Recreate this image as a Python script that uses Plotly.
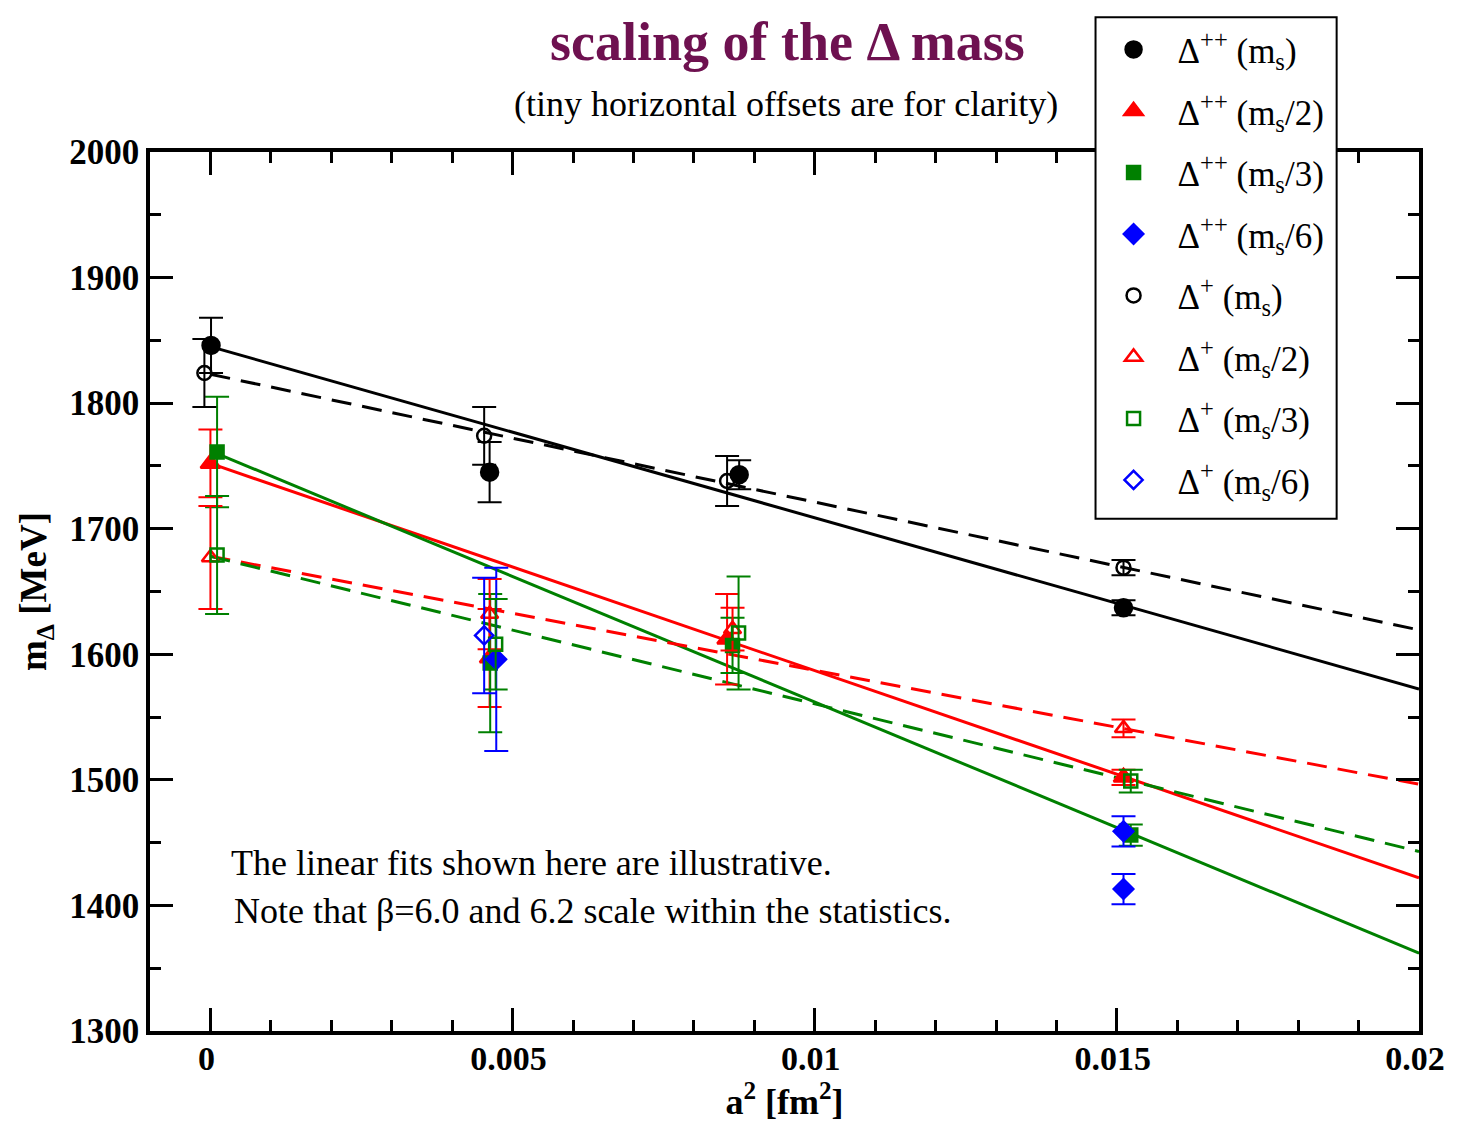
import plotly.graph_objects as go

# ---------------- data ----------------
names = ["Δ<sup>++</sup> (m<sub>s</sub>)", "Δ<sup>++</sup> (m<sub>s</sub>/2)",
         "Δ<sup>++</sup> (m<sub>s</sub>/3)", "Δ<sup>++</sup> (m<sub>s</sub>/6)",
         "Δ<sup>+</sup> (m<sub>s</sub>)", "Δ<sup>+</sup> (m<sub>s</sub>/2)",
         "Δ<sup>+</sup> (m<sub>s</sub>/3)", "Δ<sup>+</sup> (m<sub>s</sub>/6)"]

x_pp_ms = [0.00001, 0.00462, 0.00875, 0.01511]
y_pp_ms = [1846, 1745, 1743, 1637]
e_pp_ms = [22, 24, 11.5, 6]

x_pp_ms2 = [0.0, 0.00462, 0.00855, 0.01511]
y_pp_ms2 = [1752, 1597, 1612, 1502]
e_pp_ms2 = [27, 39, 36, 6]

x_pp_ms3 = [0.00011, 0.00463, 0.00864, 0.01523]
y_pp_ms3 = [1761, 1593, 1607, 1456]
e_pp_ms3 = [44, 55, 22, 8.5]

x_pp_ms6 = [0.00473, 0.01511, 0.01511]
y_pp_ms6 = [1596, 1413, 1459]
e_pp_ms6 = [73, 12, 12]

x_p_ms = [-0.0001, 0.00453, 0.00855, 0.01511]
y_p_ms = [1824, 1774, 1738, 1669]
e_p_ms = [27, 23, 20, 6]

x_p_ms2 = [0.0, 0.00462, 0.00864, 0.01511]
y_p_ms2 = [1677, 1632, 1620, 1541]
e_p_ms2 = [41, 28, 17, 7]

x_p_ms3 = [0.00011, 0.00472, 0.00874, 0.01523]
y_p_ms3 = [1679, 1608, 1617, 1499]
e_p_ms3 = [47, 36, 45, 9]

x_p_ms6 = [0.00453]
y_p_ms6 = [1615]
e_p_ms6 = [46]

# linear fits: intercept at a^2=0 and slope [MeV / fm^2]
fit_names = ["pp_ms", "p_ms", "pp_ms2", "pp_ms3", "p_ms2", "p_ms3"]
fit_intercepts = [1845, 1823, 1752, 1762, 1678, 1678]
fit_slopes = [-13630, -10180, -16500, -20000, -9075, -11750]
fit_x_range = [0.0, 0.02]

# ---------------- styles ----------------
BLACK, RED, GREEN, BLUE = "#000000", "#ff0000", "#008000", "#0000ff"
SERIF = "Liberation Serif"

fit_styles = {
    "pp_ms": (BLACK, "solid"), "p_ms": (BLACK, "20px,11px"),
    "pp_ms2": (RED, "solid"), "pp_ms3": (GREEN, "solid"),
    "p_ms2": (RED, "20px,11px"), "p_ms3": (GREEN, "20px,11px"),
}

fig = go.Figure()

for nm, a, b in zip(fit_names, fit_intercepts, fit_slopes):
    col, dash = fit_styles[nm]
    fig.add_trace(go.Scatter(
        x=fit_x_range, y=[a + b * xx for xx in fit_x_range], mode="lines",
        line=dict(color=col, width=3, dash=dash), showlegend=False, hoverinfo="skip"))

series = [
    (names[0], x_pp_ms, y_pp_ms, e_pp_ms, BLACK, "circle", 17),
    (names[1], x_pp_ms2, y_pp_ms2, e_pp_ms2, RED, "triangle-up", 17),
    (names[2], x_pp_ms3, y_pp_ms3, e_pp_ms3, GREEN, "square", 13),
    (names[3], x_pp_ms6, y_pp_ms6, e_pp_ms6, BLUE, "diamond", 15),
    (names[4], x_p_ms, y_p_ms, e_p_ms, BLACK, "circle-open", 14),
    (names[5], x_p_ms2, y_p_ms2, e_p_ms2, RED, "triangle-up-open", 15),
    (names[6], x_p_ms3, y_p_ms3, e_p_ms3, GREEN, "square-open", 13),
    (names[7], x_p_ms6, y_p_ms6, e_p_ms6, BLUE, "diamond-open", 14),
]

for i, (nm, xs, ys, es, col, sym, sz) in enumerate(series):
    fig.add_trace(go.Scatter(
        x=xs, y=ys, mode="markers", name=nm, legendgroup=f"g{i}",
        marker=dict(color=col, symbol=sym, size=sz, line=dict(color=col, width=2.5)),
        error_y=dict(type="data", array=es, visible=True, color=col, thickness=2, width=12),
    ))

axis_common = dict(
    showline=True, linecolor="black", linewidth=3.5, mirror="allticks",
    ticks="inside", ticklen=23, tickwidth=3, tickcolor="black",
    showgrid=False, zeroline=False,
)

# page body keeps its default 8px margin: the figure is sized so the page fits the
# window exactly and the plot area lands at x 150..1429, y 147..1041 on screen
fig.update_layout(
    width=1449, height=1120,
    margin=dict(l=142, r=28, t=139, b=87),
    paper_bgcolor="white", plot_bgcolor="white",
    font=dict(family=SERIF, color="black"),
    xaxis=dict(range=[-0.001, 0.02], tick0=0, dtick=0.005,
               minor=dict(dtick=0.001, ticks="inside", ticklen=11, tickwidth=3, tickcolor="black"),
               ticklabelstandoff=-6, ticklabelshift=-4,
               tickfont=dict(family=SERIF, size=34, color="black", weight="bold"),
               title=dict(text="a<sup>2</sup> [fm<sup>2</sup>]", standoff=14,
                          font=dict(family=SERIF, size=36, color="black", weight="bold")),
               **axis_common),
    yaxis=dict(range=[1300, 2000], tick0=1300, dtick=100,
               minor=dict(dtick=50, ticks="inside", ticklen=11, tickwidth=3, tickcolor="black"),
               tickfont=dict(family=SERIF, size=35, color="black", weight="bold"),
               title=dict(text="m<sub>Δ</sub> [MeV]", standoff=12,
                          font=dict(family=SERIF, size=37, color="black", weight="bold")),
               **axis_common),
    legend=dict(x=0.7404, y=1.150, xanchor="left", yanchor="top",
                bgcolor="rgba(0,0,0,0)", borderwidth=0,
                font=dict(family=SERIF, size=35, color="black"),
                itemsizing="trace", itemwidth=78, tracegroupgap=13),
    showlegend=True,
)

# legend frame (white box covering the top axis)
fig.add_shape(type="rect", xref="paper", yref="paper",
              x0=0.7451, x1=0.9351, y0=0.5828, y1=1.1532,
              fillcolor="white", line=dict(color="black", width=2), layer="above")

fig.add_annotation(text="<b>scaling of the Δ mass</b>", xref="paper", yref="paper",
                   x=0.502, y=1.1255, yanchor="middle", showarrow=False,
                   font=dict(family=SERIF, size=54, color="#6e1150"))
fig.add_annotation(text="(tiny horizontal offsets are for clarity)", xref="paper", yref="paper",
                   x=0.501, y=1.0544, yanchor="middle", showarrow=False,
                   font=dict(family=SERIF, size=36, color="black"))
fig.add_annotation(text="The linear fits shown here are illustrative.", xref="paper", yref="paper",
                   x=0.0625, y=0.191, xanchor="left", yanchor="middle", showarrow=False,
                   font=dict(family=SERIF, size=36, color="black"))
fig.add_annotation(text="Note that β=6.0 and 6.2 scale within the statistics.", xref="paper", yref="paper",
                   x=0.0649, y=0.1365, xanchor="left", yanchor="middle", showarrow=False,
                   font=dict(family=SERIF, size=36, color="black"))

fig.write_html("out.html", config={"displayModeBar": False})
